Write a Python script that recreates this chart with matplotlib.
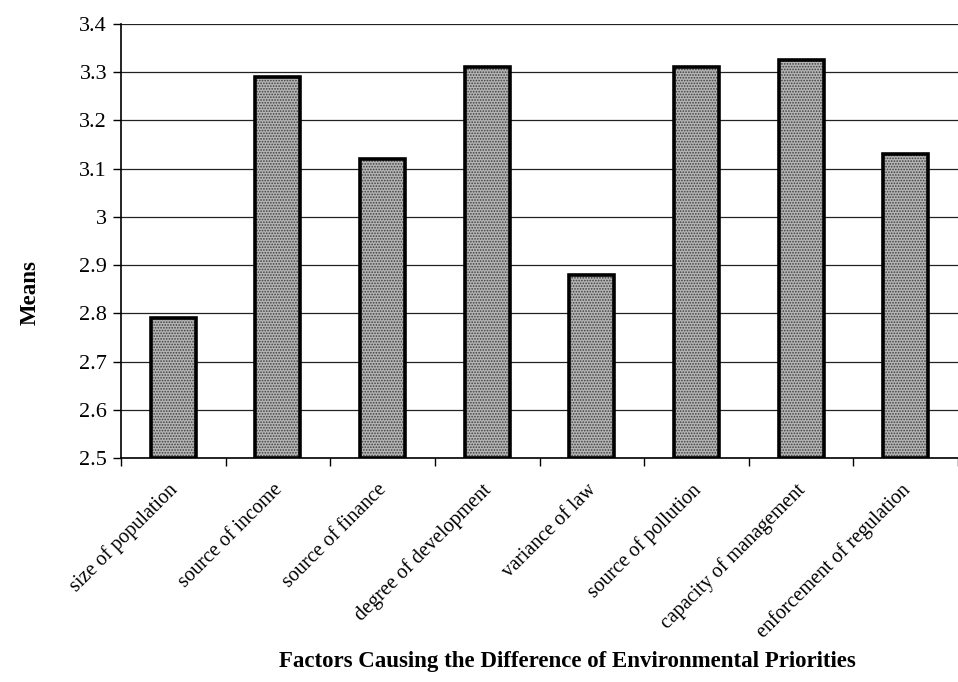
import numpy as np
import matplotlib
matplotlib.use('Agg')
import matplotlib.pyplot as plt

# values
factors = ['size of population', 'source of income', 'source of finance',
           'degree of development', 'variance of law', 'source of pollution',
           'capacity of management', 'enforcement of regulation']
means = [2.79, 3.29, 3.12, 3.31, 2.88, 3.31, 3.325, 3.13]
yticks = [2.5, 2.6, 2.7, 2.8, 2.9, 3.0, 3.1, 3.2, 3.3, 3.4]
ytick_labels = ['2.5', '2.6', '2.7', '2.8', '2.9', '3', '3.1', '3.2', '3.3', '3.4']

plt.rcParams['font.family'] = 'Liberation Serif'
plt.rcParams['hatch.linewidth'] = 0.8

fig = plt.figure(figsize=(9.58, 6.82), dpi=100)
ax = fig.add_axes([121/958, 1-458/682, 1-121/958, 434/682])

x = np.arange(len(factors))
# stippled fill first, then black outline on top
ax.bar(x, np.array(means)-2.5, bottom=2.5, width=0.43, color='#b4b4b4',
       edgecolor='#404040', hatch='......', linewidth=0, zorder=2)
ax.bar(x, np.array(means)-2.5, bottom=2.5, width=0.43, fill=False,
       edgecolor='black', linewidth=2.6, zorder=3)

ax.set_ylim(2.5, 3.4)
ax.set_xlim(-0.5, 7.396)
ax.set_yticks(yticks)
ax.set_yticklabels(ytick_labels, fontsize=16)
ax.yaxis.grid(True, color='#222222', linewidth=0.9)
ax.set_axisbelow(True)

ax.set_xticks(np.arange(len(factors)+1)-0.5)
ax.set_xticklabels([])
ax.set_xticks(x - 0.05, minor=True)
ax.set_xticklabels(factors, minor=True, rotation=45, ha='right',
                   rotation_mode='anchor', fontsize=14.5)
ax.tick_params(axis='x', which='minor', length=0, pad=16)
ax.tick_params(axis='x', which='major', length=6, width=1)
ax.tick_params(axis='y', length=6, width=1, pad=4)

for s in ['top', 'right']:
    ax.spines[s].set_visible(False)
ax.spines['left'].set_linewidth(1.2)
ax.spines['bottom'].set_linewidth(1.2)

fig.text(30/958, 1-293/682, 'Means', rotation=90, fontsize=16.5,
         fontweight='bold', ha='center', va='center')
fig.text(567/958, 1-662/682, 'Factors Causing the Difference of Environmental Priorities',
         fontsize=16.5, fontweight='bold', ha='center', va='center')

fig.savefig('out.png', dpi=100)
